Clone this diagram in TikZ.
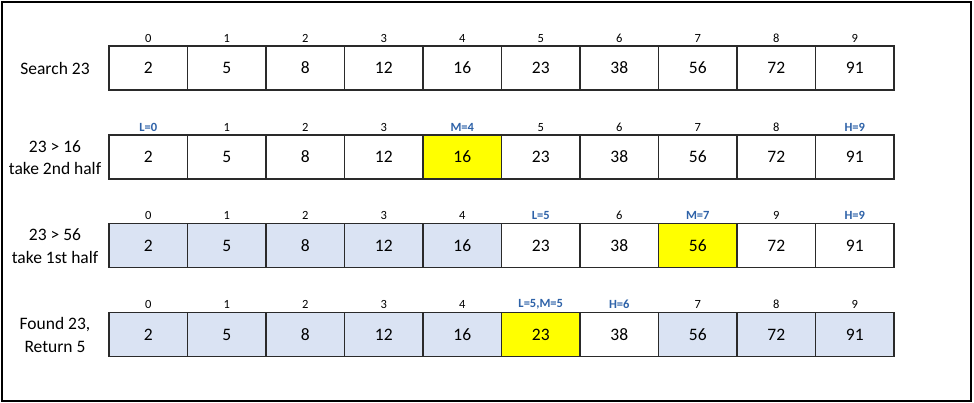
\documentclass[tikz,border=0pt]{standalone}
\usepackage{fontspec}
\setmainfont{Carlito}
\definecolor{labblue}{HTML}{2E62A8}
\definecolor{cellblue}{HTML}{DAE3F3}
\definecolor{celly}{HTML}{FFFF00}
\definecolor{cellline}{HTML}{2A2A2A}
\newcommand\hl[1]{\textcolor{labblue}{\textbf{#1}}}
\begin{document}
\begin{tikzpicture}[x=1pt,y=-1pt,
  cellbox/.style={draw=cellline,line width=1.3pt,minimum width=78.5pt,minimum height=44pt,inner sep=0pt,font=\fontsize{17.5}{19}\selectfont},
  cw/.style={cellbox,fill=white},
  cy/.style={cellbox,fill=celly},
  cb/.style={cellbox,fill=cellblue},
  idxlab/.style={inner sep=0pt,font=\fontsize{12.5}{14}\selectfont},
  rowlab/.style={align=center,inner sep=0pt,font=\fontsize{17.5}{22.5}\selectfont}]
\useasboundingbox (0,0) rectangle (974,403);
\draw[line width=2pt] (2,2) rectangle (971,401);
% row 1
\foreach \v/\f/\l [count=\i from 0] in {2/cw/0,5/cw/1,8/cw/2,12/cw/3,16/cw/4,23/cw/5,38/cw/6,56/cw/7,72/cw/8,91/cw/9}{
  \node[\f] (ra\i) at ({109+78.5*(\i+0.5)},68) {\v};
  \node[idxlab] (ia\i) at ({109+78.5*(\i+0.5)},38.5) {\l};
}
\node[rowlab] (la) at (55,68) {Search 23};
% row 2
\foreach \v/\f/\l [count=\i from 0] in {2/cw/\hl{L=0},5/cw/1,8/cw/2,12/cw/3,16/cy/\hl{M=4},23/cw/5,38/cw/6,56/cw/7,72/cw/8,91/cw/{\hl{H=9}}}{
  \node[\f] (rb\i) at ({109+78.5*(\i+0.5)},157) {\v};
  \node[idxlab] (ib\i) at ({109+78.5*(\i+0.5)},127.5) {\l};
}
\node[rowlab] (lb) at (55,157.5) {23 > 16\\take 2nd half};
% row 3
\foreach \v/\f/\l [count=\i from 0] in {2/cb/0,5/cb/1,8/cb/2,12/cb/3,16/cb/4,23/cw/\hl{L=5},38/cw/6,56/cy/\hl{M=7},72/cw/9,91/cw/{\hl{H=9}}}{
  \node[\f] (rc\i) at ({109+78.5*(\i+0.5)},245.5) {\v};
  \node[idxlab] (ic\i) at ({109+78.5*(\i+0.5)},215.5) {\l};
}
\node[rowlab] (lc) at (55,246) {23 > 56\\take 1st half};
% row 4
\foreach \v/\f/\l [count=\i from 0] in {2/cb/0,5/cb/1,8/cb/2,12/cb/3,16/cb/4,23/cy/{\hl{L=5,M=5}},38/cw/\hl{H=6},56/cb/7,72/cb/8,91/cb/9}{
  \node[\f] (rd\i) at ({109+78.5*(\i+0.5)},334.5) {\v};
  \node[idxlab] (id\i) at ({109+78.5*(\i+0.5)},304.5) {\l};
}
\node[rowlab] (ld) at (55,335) {Found 23,\\Return 5};
\end{tikzpicture}
\end{document}
